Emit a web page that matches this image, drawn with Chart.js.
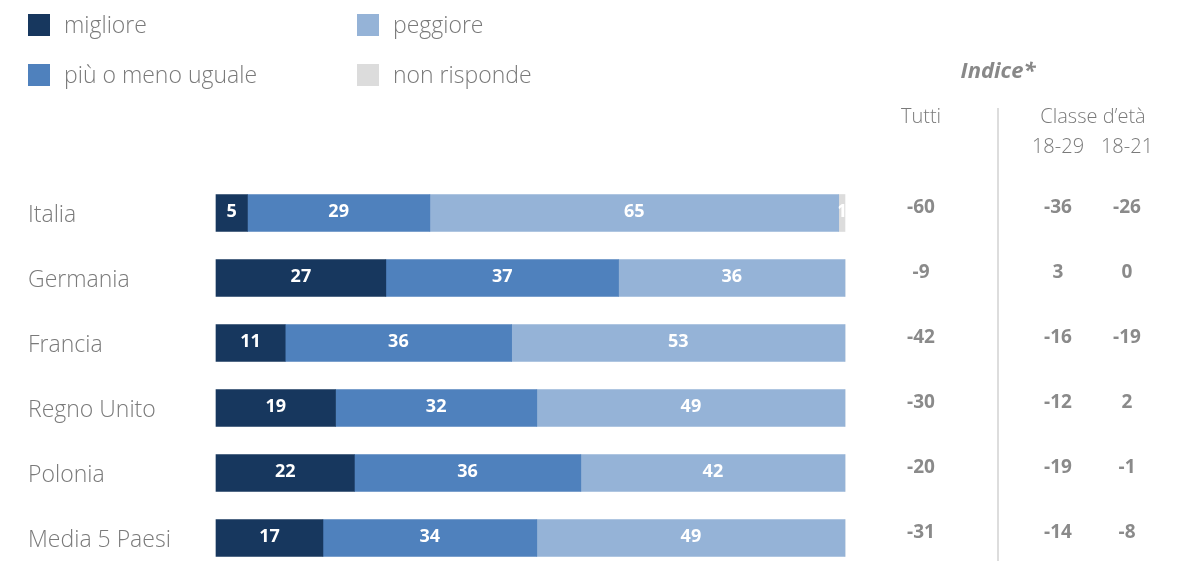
<!DOCTYPE html>
<html>
<head>
<meta charset="utf-8">
<script src="https://cdn.jsdelivr.net/npm/chart.js@4.4.1/dist/chart.umd.min.js"></script>
<style>
  html, body { margin: 0; padding: 0; background: #fff; overflow: hidden; }
  #wrap { width: 1182px; height: 561px; position: relative; }
</style>
</head>
<body>
<div id="wrap"><canvas id="c" width="1182" height="561"></canvas></div>
<script>
// Categories and shares (%)
const paesi = ['Italia', 'Germania', 'Francia', 'Regno Unito', 'Polonia', 'Media 5 Paesi'];
const migliore = [5, 27, 11, 19, 22, 17];
const uguale = [29, 37, 36, 32, 36, 34];
const peggiore = [65, 36, 53, 49, 42, 49];
const nonRisponde = [1, 0, 0, 0, 0, 0];

// Index columns on the right
const indiceTutti = [-60, -9, -42, -30, -20, -31];
const indice1829 = [-36, 3, -16, -12, -19, -14];
const indice1821 = [-26, 0, -19, 2, -1, -8];
const intestazioni = ['Tutti', 'Classe d\u2019età', '18-29', '18-21'];

const FONT = '"Open Sans", "Noto Sans", sans-serif';
const GREY = '#7a7a7a';

const serie = [
  { label: 'migliore', data: migliore, color: '#17375e' },
  { label: 'più o meno uguale', data: uguale, color: '#4f81bd' },
  { label: 'peggiore', data: peggiore, color: '#95b3d7' },
  { label: 'non risponde', data: nonRisponde, color: '#dcdcdc' }
];

// White value labels centred in each segment
const segmentLabels = {
  id: 'segmentLabels',
  afterDatasetsDraw(chart) {
    const ctx = chart.ctx;
    chart.data.datasets.forEach((ds, di) => {
      const meta = chart.getDatasetMeta(di);
      meta.data.forEach((el, i) => {
        const v = ds.data[i];
        if (!v) return;
        const left = Math.min(el.x, el.base), right = Math.max(el.x, el.base);
        ctx.save();
        ctx.beginPath();
        ctx.rect(left, el.y - el.height / 2, right - left, el.height);
        ctx.clip();
        ctx.fillStyle = '#ffffff';
        ctx.font = `bold 18px ${FONT}`;
        ctx.textAlign = 'center';
        ctx.textBaseline = 'middle';
        ctx.fillText(String(v), (left + right) / 2, el.y - 1);
        ctx.restore();
      });
    });
  }
};

// Legend in a 2x2 grid, column by column
const gridLegend = {
  id: 'gridLegend',
  afterDraw(chart) {
    const ctx = chart.ctx;
    const colX = [28, 357];
    const rowY = [14, 64];
    chart.data.datasets.forEach((ds, i) => {
      const x = colX[Math.floor(i / 2)];
      const y = rowY[i % 2];
      ctx.save();
      ctx.fillStyle = ds.backgroundColor;
      ctx.fillRect(x, y, 22, 22);
      ctx.fillStyle = GREY;
      ctx.font = `300 23px ${FONT}`;
      ctx.textAlign = 'left';
      ctx.textBaseline = 'middle';
      ctx.fillText(ds.label, x + 36, y + 12);
      ctx.restore();
    });
  }
};

// Index table to the right of the bars
const indexTable = {
  id: 'indexTable',
  afterDraw(chart) {
    const ctx = chart.ctx;
    const yScale = chart.scales.y;
    const cols = [921, 1058, 1127];
    ctx.save();
    // divider
    ctx.strokeStyle = '#dddddd';
    ctx.lineWidth = 2;
    ctx.beginPath();
    ctx.moveTo(998, 108);
    ctx.lineTo(998, 561);
    ctx.stroke();
    // headers
    ctx.fillStyle = '#888888';
    ctx.textAlign = 'center';
    ctx.textBaseline = 'middle';
    ctx.font = `italic bold 22px ${FONT}`;
    ctx.fillText('Indice*', 998, 72);
    ctx.font = `300 20px ${FONT}`;
    ctx.fillStyle = GREY;
    ctx.fillText(intestazioni[0], cols[0], 117);
    ctx.fillText(intestazioni[1], 1093, 117);
    ctx.fillText(intestazioni[2], cols[1], 147);
    ctx.fillText(intestazioni[3], cols[2], 147);
    // values
    ctx.fillStyle = '#8a8a8a';
    ctx.font = `bold 19px ${FONT}`;
    [indiceTutti, indice1829, indice1821].forEach((arr, c) => {
      arr.forEach((v, i) => {
        ctx.fillText(String(v), cols[c], yScale.getPixelForValue(i) - 5);
      });
    });
    ctx.restore();
  }
};

new Chart(document.getElementById('c'), {
  type: 'bar',
  data: {
    labels: paesi,
    datasets: serie.map(s => ({
      label: s.label,
      data: s.data,
      backgroundColor: s.color,
      borderWidth: 0,
      barThickness: 37,
      clip: false
    }))
  },
  options: {
    responsive: false,
    animation: false,
    devicePixelRatio: 1,
    indexAxis: 'y',
    layout: { padding: { left: 28, right: 337, top: 213, bottom: 23 } },
    plugins: { legend: { display: false }, tooltip: { enabled: false } },
    scales: {
      x: { stacked: true, min: 0, max: 100, display: false },
      y: {
        stacked: true,
        offset: false,
        grid: { display: false },
        border: { display: false },
        ticks: {
          crossAlign: 'far',
          padding: 0,
          labelOffset: 2,
          color: GREY,
          font: { family: FONT, size: 23, weight: '300' }
        },
        afterFit(scale) { scale.width = 188; }
      }
    }
  },
  plugins: [segmentLabels, gridLegend, indexTable]
});
</script>
</body>
</html>
